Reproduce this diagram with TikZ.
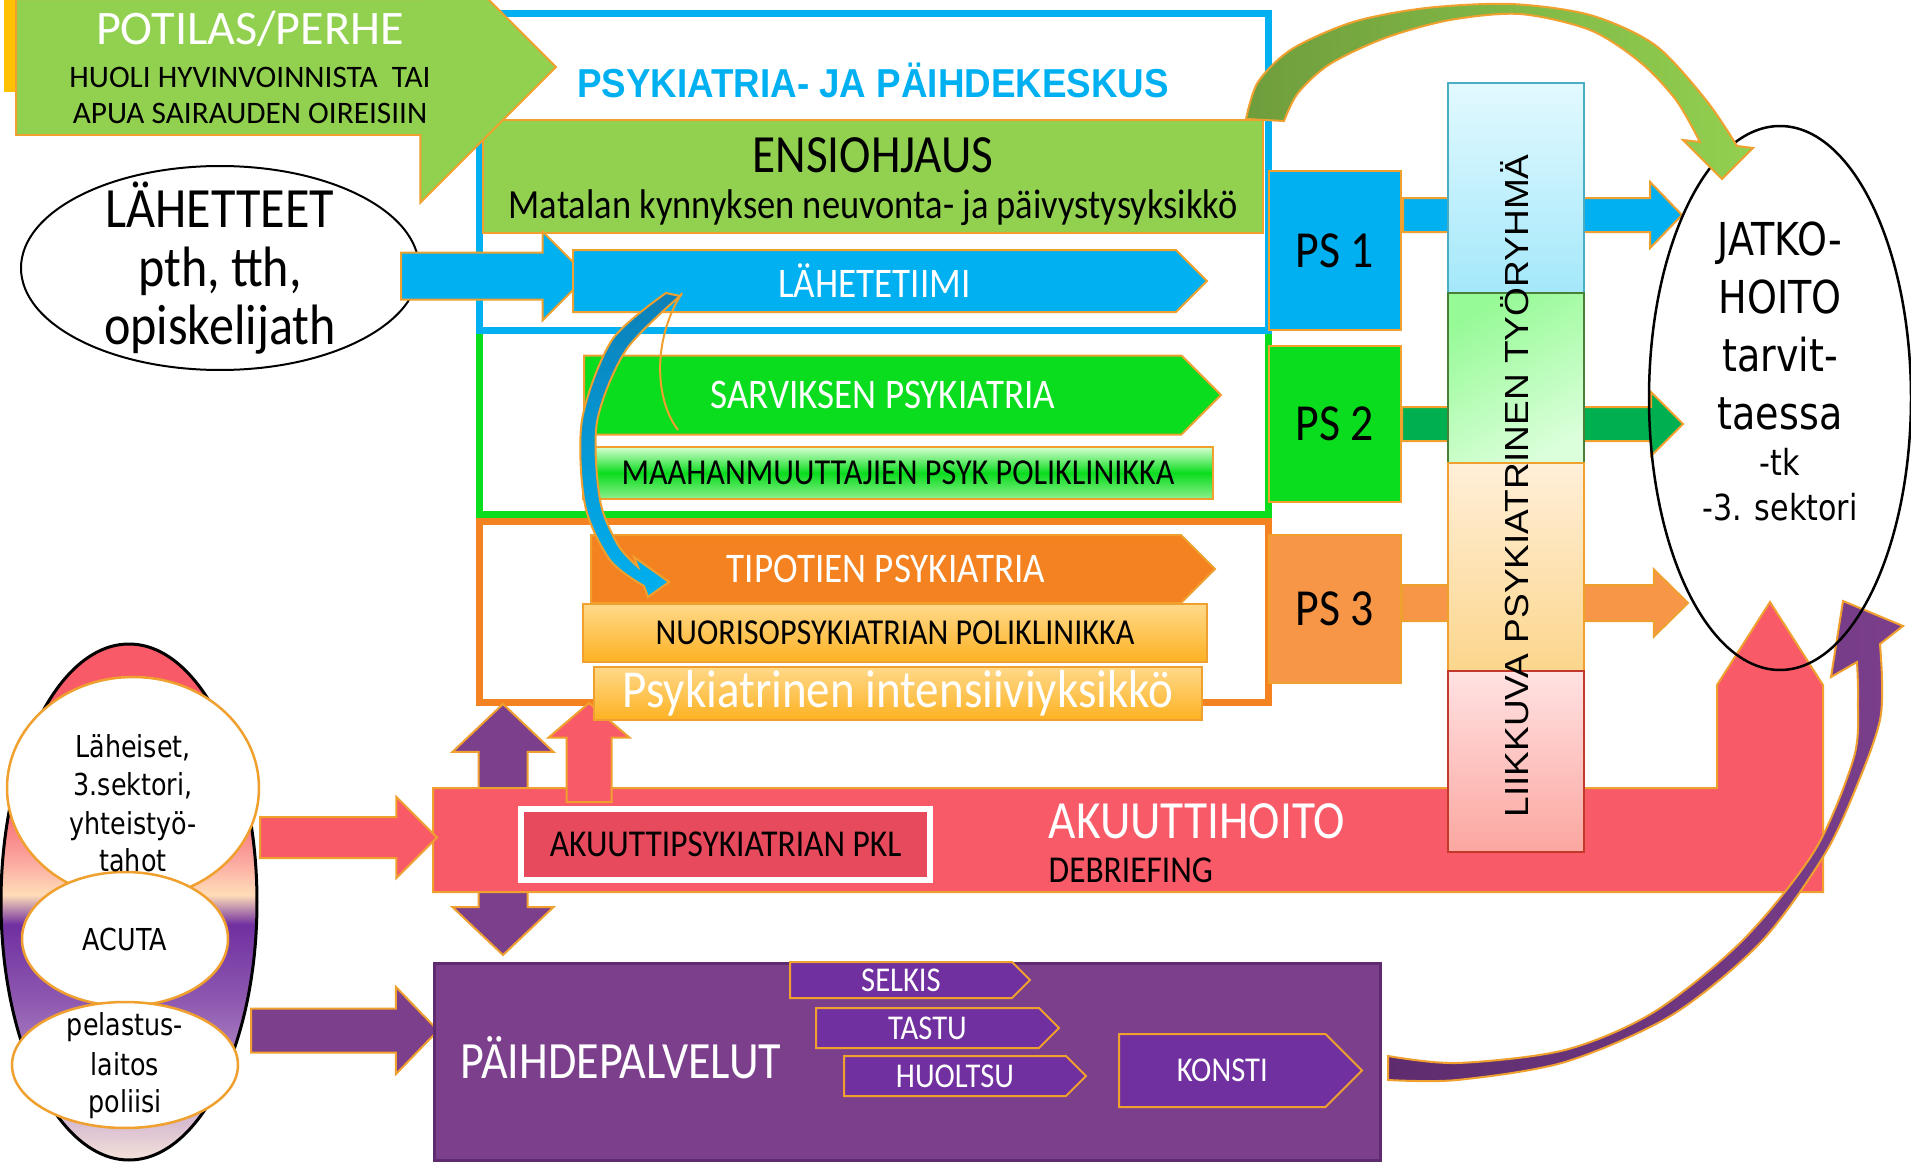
\documentclass[tikz,border=0pt]{standalone}
\usepackage{fontspec}
\usepackage{graphicx}
\usetikzlibrary{shapes.geometric,shapes.symbols,shapes.arrows}
\newfontfamily\calfont{Carlito}[FakeStretch=0.88]
\newfontfamily\calwide{Carlito}
\newfontfamily\tahfont{DejaVu Sans}[FakeStretch=0.84]
\newfontfamily\arifont{Liberation Sans}
\newfontfamily\narrowbold{Liberation Sans}[FakeStretch=0.91]
\newcommand{\fz}[1]{\fontsize{#1}{#1}\selectfont}
\definecolor{rimc}{HTML}{EFA02E}
\definecolor{leaf}{HTML}{92D050}
\definecolor{leafdk}{HTML}{6F9D3C}
\definecolor{sky}{HTML}{00B0F0}
\definecolor{skydk}{HTML}{0C80B8}
\definecolor{lime}{HTML}{0ADC1E}
\definecolor{grass}{HTML}{00B050}
\definecolor{mintl}{HTML}{D6FFD2}
\definecolor{mintb}{HTML}{8CF08C}
\definecolor{tang}{HTML}{F58220}
\definecolor{apricot}{HTML}{F79646}
\definecolor{honey}{HTML}{FFD98A}
\definecolor{amber}{HTML}{FDB223}
\definecolor{coral}{HTML}{F85A68}
\definecolor{pklred}{HTML}{E64A5C}
\definecolor{plum}{HTML}{7B3F8C}
\definecolor{plumdk}{HTML}{5E2C6E}
\definecolor{violet2}{HTML}{7030A0}
\definecolor{gold}{HTML}{FFC000}
\definecolor{ice1}{HTML}{E2F9FF}
\definecolor{ice2}{HTML}{A4E8FA}
\definecolor{teal2}{HTML}{4BACC6}
\definecolor{mint1}{HTML}{96FA96}
\definecolor{mint2}{HTML}{DAFFDA}
\definecolor{moss}{HTML}{4A7F38}
\definecolor{cream}{HTML}{FFEFD8}
\definecolor{sand}{HTML}{FCD68C}
\definecolor{pink1}{HTML}{FFE2E2}
\definecolor{pink2}{HTML}{FCA6A0}
\definecolor{brick}{HTML}{C0392B}
\definecolor{blush}{HTML}{F4E2DA}
\definecolor{lilac}{HTML}{B892C8}
\definecolor{midpurple}{HTML}{8E58B0}
\definecolor{peach}{HTML}{FFDDB8}
\definecolor{rose}{HTML}{FBA8A0}
\pgfdeclareverticalshading{acuta}{100bp}{color(0bp)=(blush); color(25bp)=(blush); color(32.8bp)=(lilac); color(40.5bp)=(midpurple); color(47.8bp)=(violet2); color(50.7bp)=(peach); color(54bp)=(rose); color(60bp)=(coral); color(75bp)=(coral); color(100bp)=(coral)}

\begin{document}
\begin{tikzpicture}[x=0.1mm,y=-0.1mm,
    rim/.style={draw=rimc,line width=0.2mm},
    txt/.style={anchor=base,inner sep=0pt},
    frame/.style={rectangle,line width=0.7mm,minimum width=78.9mm,inner sep=0pt},
    sig/.style={signal,signal to=east,rim,inner sep=0pt,anchor=west,text=white,font=\calfont\fz{12}},
    bar/.style={rectangle,rim,inner sep=0pt},
    blk/.style={single arrow,rim,single arrow head indent=0pt,inner sep=0pt,anchor=tail},
    psbox/.style={rectangle,rim,inner sep=0pt,minimum width=13.2mm,font=\calfont\fz{14.8}},
    band/.style={rectangle,line width=0.25mm,inner sep=0pt,minimum width=13.6mm},
    oval/.style={ellipse,inner sep=0pt,fill=white,draw=rimc,line width=0.25mm},
    sub/.style={signal,signal to=east,rim,fill=violet2,inner sep=0pt,anchor=west,text=white,font=\calfont\fz{9.9}}]
  \useasboundingbox (0,0) rectangle (1911,1168);
  \clip (0,0) rectangle (1911,1168);
  \fill[gold] (4,0) rectangle (15,92);

  \node(orangeframe) at (873.5,611.5) [frame,draw=tang,minimum height=18.1mm] {};
  \node(greenframe) at (873.5,422) [frame,draw=lime,minimum height=18.4mm] {};
  \node(blueframe) at (873.5,171.5) [frame,draw=sky,minimum height=31.7mm] {};
  \node(ensio) at (873,176.5) [bar,fill=leaf,minimum width=78mm,minimum height=11.3mm] {};
  \node(ensiot) at (873,172) [txt,font=\calfont\fz{15.3}] {ENSIOHJAUS};
  \node(matala) at (873,218) [txt,font=\calfont\fz{11.8}] {Matalan kynnyksen neuvonta- ja päivystysyksikkö};

  \node(potilas) at (15,67) [blk,fill=leaf,minimum height=54mm,inner ysep=6.7mm,single arrow head extend=6.75mm,single arrow tip angle=90] {};
  \node(potilast) at (250,45) [txt,text=white,font=\calwide\fz{13.7}] {POTILAS/PERHE};
  \node(huoli) at (250,88) [txt,font=\calwide\fz{8.9}] {HUOLI HYVINVOINNISTA\ \ TAI};
  \node(apua) at (250,123) [txt,font=\calwide\fz{8.9}] {APUA SAIRAUDEN OIREISIIN};
  \node(keskus) at (873,97) [txt,text=sky,font=\narrowbold\bfseries\fz{11.5}] {PSYKIATRIA- JA PÄIHDEKESKUS};

  \node(lahetteet) at (220,268) [ellipse,draw,line width=0.2mm,fill=white,minimum width=39.8mm,minimum height=20.4mm,inner sep=0pt] {};
  \node(lah1) at (220,228) [txt,font=\calfont\fz{16.2}] {LÄHETTEET};
  \node(lah2) at (220,286) [txt,font=\calfont\fz{16.2}] {pth, tth,};
  \node(lah3) at (220,344) [txt,font=\calfont\fz{16.2}] {opiskelijath};
  \node(lahnuoli) at (400,276) [blk,fill=sky,minimum height=18.6mm,inner ysep=2.25mm,single arrow head extend=2.1mm,single arrow tip angle=90] {};

  \node(tiimi) at (572,281) [sig,fill=sky,minimum width=63.4mm,minimum height=6.2mm] {LÄHETETIIMI};
  \node(sarvis) at (583,395) [sig,fill=lime,minimum width=63.7mm,minimum height=7.9mm] {SARVIKSEN PSYKIATRIA};
  \node(maahan) at (898,473) [bar,top color=mintl,bottom color=mintb,middle color=lime,minimum width=63mm,minimum height=5.2mm,font=\calfont\fz{10.4}] {MAAHANMUUTTAJIEN PSYK POLIKLINIKKA};
  \node(tipotie) at (590,569) [sig,fill=tang,minimum width=62.4mm,minimum height=6.8mm] {TIPOTIEN PSYKIATRIA};
  \node(nuoriso) at (895,633) [bar,top color=honey,bottom color=amber,minimum width=62.4mm,minimum height=5.8mm,font=\calfont\fz{10.4}] {NUORISOPSYKIATRIAN POLIKLINIKKA};

  \node(kaksoisnuoli) at (503,829.5) [double arrow,rim,fill=plum,rotate=90,double arrow head indent=0pt,inner sep=0pt,minimum height=25.1mm,inner ysep=2.35mm,double arrow head extend=2.6mm,double arrow tip angle=93] {};
  \filldraw[rim,fill=coral] (433,788) -- (1717,788) -- (1717,685) -- (1770,602) -- (1823,685) -- (1823,892) -- (433,892) -- cycle;
  \node(punanuoli) at (589,803) [blk,fill=coral,rotate=90,minimum height=9.9mm,inner ysep=2.15mm,single arrow head extend=1.8mm,single arrow tip angle=99] {};
  \node(intensiivi) at (898,693) [bar,top color=honey,bottom color=amber,minimum width=60.8mm,minimum height=5.3mm,text=white,font=\calfont\fz{15.2}] {Psykiatrinen intensiiviyksikkö};

  \filldraw[rim,top color=skydk,bottom color=sky] plot[smooth] coordinates {(666,293) (612,340) (582,420) (585,505) (610,560) (644,586)} -- (648,597) -- (669,582) -- (634,557) -- plot[smooth] coordinates {(638,567) (618,545) (600,500) (597,422) (626,350) (680,296)} -- cycle;
  \draw[rimc,line width=0.2mm] (682,293) .. controls (652,340) and (655,400) .. (678,430);

  \node(pkl) at (725.5,844.5) [rectangle,fill=pklred,draw=white,line width=0.6mm,minimum width=40.9mm,minimum height=7.1mm,inner sep=0pt,font=\calfont\fz{10.8}] {AKUUTTIPSYKIATRIAN PKL};
  \node(akuutti) at (1048,838) [txt,anchor=base west,text=white,font=\calfont\fz{15.3}] {AKUUTTIHOITO};
  \node(debrief) at (1048,882) [txt,anchor=base west,font=\calfont\fz{10.8}] {DEBRIEFING};

  \node(ps1) at (1335,250.5) [psbox,fill=sky,minimum height=15.9mm] {PS 1};
  \node(ps2) at (1335,424) [psbox,fill=lime,minimum height=15.6mm] {PS 2};
  \node(ps3) at (1335,609) [psbox,fill=apricot,minimum height=14.8mm] {PS 3};
  \node(nuoli1) at (1402,215) [blk,fill=sky,minimum height=27.9mm,inner ysep=1.6mm,single arrow head extend=1.6mm,single arrow tip angle=92] {};
  \node(nuoli2) at (1401,424) [blk,fill=grass,minimum height=28.1mm,inner ysep=1.6mm,single arrow head extend=1.5mm,single arrow tip angle=90] {};
  \node(nuoli3) at (1401,603) [blk,fill=apricot,minimum height=28.6mm,inner ysep=1.7mm,single arrow head extend=1.55mm,single arrow tip angle=89] {};

  \node(col1) at (1516,188) [band,draw=teal2,top color=ice1,bottom color=ice2,minimum height=21mm] {};
  \node(col2) at (1516,378) [band,draw=moss,top color=mint1,bottom color=mint2,shading angle=30,minimum height=17mm] {};
  \node(col3) at (1516,567) [band,draw=rimc,top color=cream,bottom color=sand,minimum height=20.8mm] {};
  \node(col4) at (1516,761.5) [band,draw=brick,top color=pink1,bottom color=pink2,minimum height=18.1mm] {};
  \node(liikkuva) at (1528,486) [txt,rotate=90,font=\arifont\fz{9.5}] {\scalebox{1.11}[1]{LIIKKUVA PSYKIATRINEN TYÖRYHMÄ}};

  \node(punainen) at (259,837.5) [blk,fill=coral,minimum height=17.7mm,inner ysep=1.95mm,single arrow head extend=2mm,single arrow tip angle=90] {};
  \node(violetti) at (250,1030.5) [blk,fill=plum,minimum height=18.7mm,inner ysep=2.1mm,single arrow head extend=2.15mm,single arrow tip angle=92] {};
  \node(yhteistyo) at (129,902) [ellipse,draw,line width=0.3mm,shade,shading=acuta,minimum width=25.6mm,minimum height=51.6mm,inner sep=0pt] {};
  \node(laheiset) at (133,788) [oval,minimum width=25.2mm,minimum height=22.2mm] {};
  \node(acuta) at (125,939) [oval,minimum width=20.6mm,minimum height=13.4mm] {};
  \node(pelastus) at (125,1065) [oval,minimum width=22.6mm,minimum height=12.6mm] {};
  \node(lt1) at (133,757) [txt,font=\tahfont\fz{8.6}] {Läheiset,};
  \node(lt2) at (133,795) [txt,font=\tahfont\fz{8.6}] {3.sektori,};
  \node(lt3) at (133,834) [txt,font=\tahfont\fz{8.6}] {yhteistyö-};
  \node(lt4) at (133,871) [txt,font=\tahfont\fz{8.6}] {tahot};
  \node(at1) at (125,950) [txt,font=\tahfont\fz{8.6}] {ACUTA};
  \node(pt1) at (125,1035) [txt,font=\tahfont\fz{8.6}] {pelastus-};
  \node(pt2) at (125,1075) [txt,font=\tahfont\fz{8.6}] {laitos};
  \node(pt3) at (125,1112) [txt,font=\tahfont\fz{8.6}] {poliisi};

  \node(paihde) at (907,1061.5) [rectangle,fill=plum,draw=plumdk,line width=0.3mm,minimum width=94.6mm,minimum height=19.7mm,inner sep=0pt] {};
  \node(paihdet) at (621,1078) [txt,text=white,font=\calfont\fz{14.9}] {PÄIHDEPALVELUT};
  \node(selkis) at (789,980) [sub,minimum width=24mm,minimum height=3.6mm] {SELKIS};
  \node(tastu) at (815,1028) [sub,minimum width=24.3mm,minimum height=4mm] {TASTU};
  \node(huoltsu) at (843,1076) [sub,minimum width=24.2mm,minimum height=4mm] {HUOLTSU};
  \node(konsti) at (1118,1070.5) [sub,minimum width=24.3mm,minimum height=7.3mm] {KONSTI};

  \filldraw[rim,left color=plumdk,right color=plum] plot[smooth] coordinates {(1388,1080) (1457,1080) (1565,1062) (1672,1015) (1761,942) (1826,852) (1862,773) (1880,720) (1882,680) (1880,644)} -- (1903,626) -- (1843,601) -- (1831,677) -- plot[smooth] coordinates {(1857,662) (1858,700) (1854,757) (1815,850) (1743,940) (1654,1012) (1565,1050) (1457,1063) (1388,1056)} -- cycle;

  \node(jatko) at (1780,398) [ellipse,draw,line width=0.25mm,minimum width=26.2mm,minimum height=54.4mm,inner sep=0pt] {};
  \node(jt1) at (1780,255) [txt,font=\tahfont\fz{12.9}] {JATKO-};
  \node(jt2) at (1780,313) [txt,font=\tahfont\fz{12.9}] {HOITO};
  \node(jt3) at (1780,371) [txt,font=\tahfont\fz{12.9}] {tarvit-};
  \node(jt4) at (1780,429) [txt,font=\tahfont\fz{12.9}] {taessa};
  \node(jt5) at (1780,475) [txt,font=\tahfont\fz{10.2}] {-tk};
  \node(jt6) at (1780,520) [txt,font=\tahfont\fz{10.2}] {-3. sektori};

  \filldraw[rim,left color=leafdk,right color=leaf] plot[smooth] coordinates {(1246,119) (1258,82) (1292,49) (1353,22) (1426,8) (1511,4) (1590,15) (1655,45) (1706,100) (1737,146)} -- (1753,148) -- (1722,179) -- (1683,140) -- plot[smooth] coordinates {(1700,142) (1676,100) (1640,62) (1590,30) (1520,14) (1450,20) (1385,38) (1330,64) (1298,93) (1284,121)} -- cycle;
\end{tikzpicture}
\end{document}
